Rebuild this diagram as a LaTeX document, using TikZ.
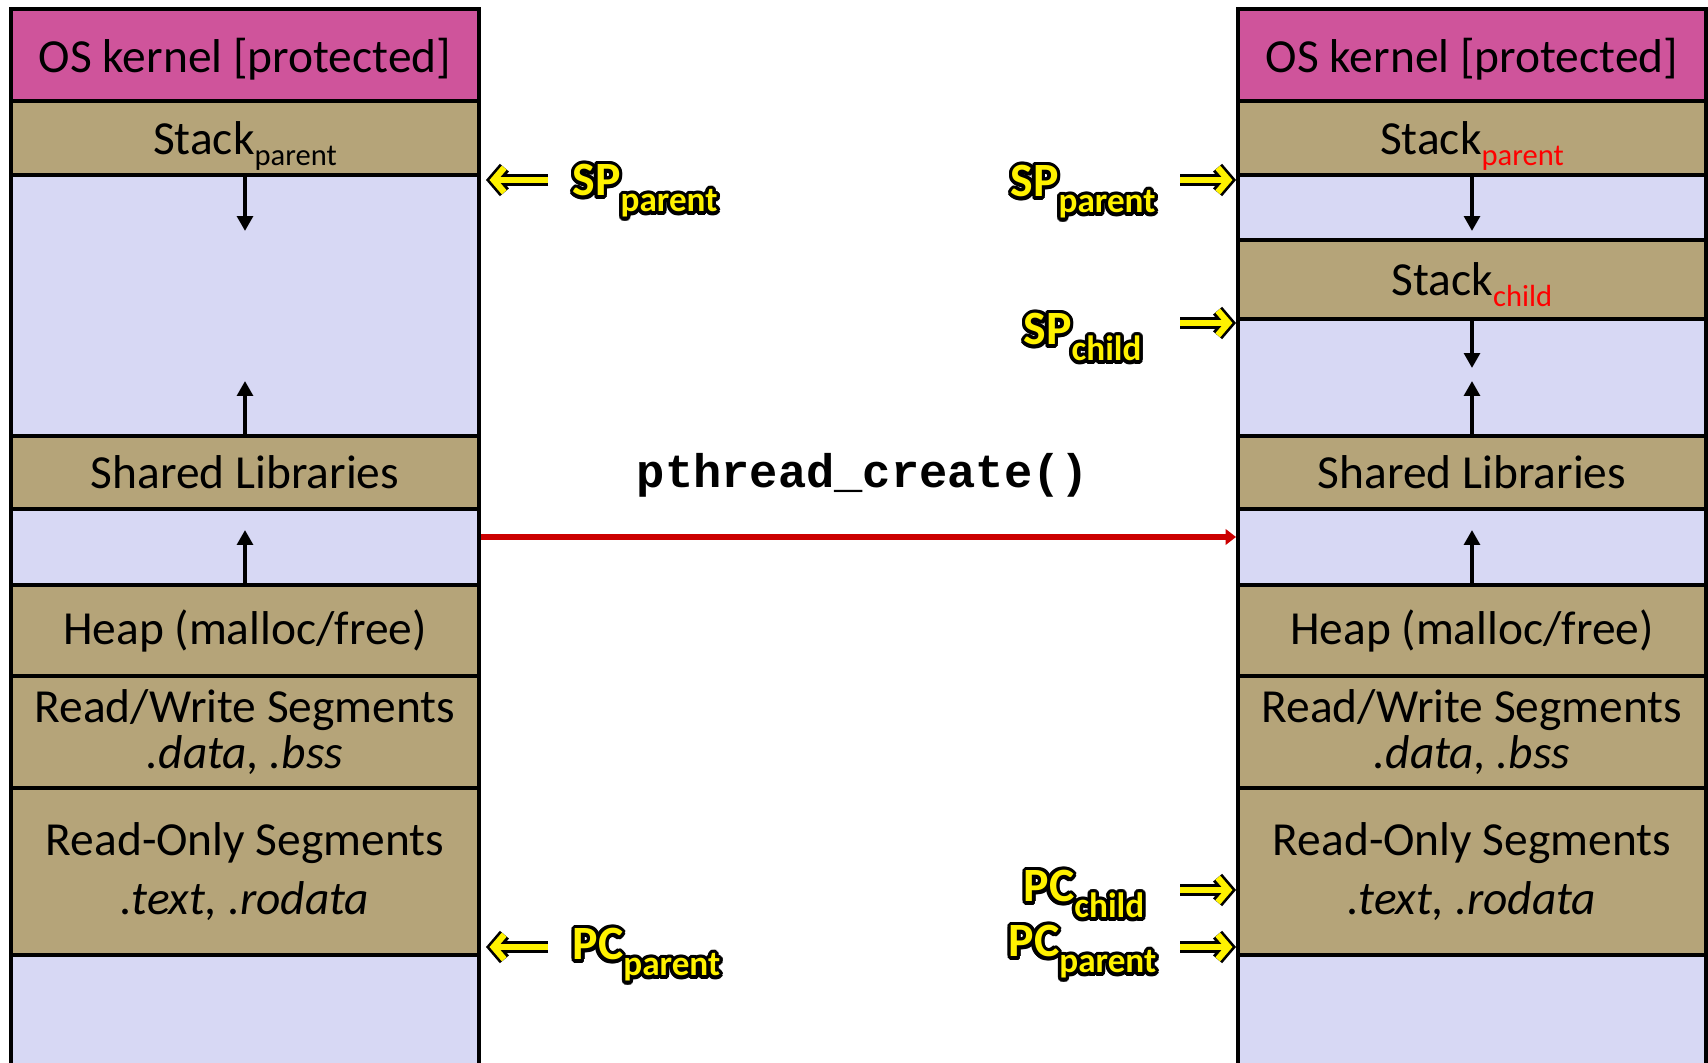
\documentclass[tikz,border=0pt]{standalone}
\usepackage{fontspec}
\setmainfont{Carlito}
\setmonofont{Liberation Mono}
\usepackage[copies]{contour}
\usetikzlibrary{arrows.meta}
\contourlength{1pt}
\definecolor{kernelpink}{RGB}{207,84,155}
\definecolor{segtan}{RGB}{181,164,121}
\definecolor{freeblue}{RGB}{215,216,244}
\definecolor{forkred}{RGB}{204,0,0}
\newcommand{\lowtext}[2][black]{\raisebox{-3.1pt}{\fontsize{8.7}{9}\selectfont\color{#1}#2}}
\newcommand{\regname}[2]{\contour{black}{#1\raisebox{-4.5pt}{\fontsize{10}{10}\selectfont #2}}}
\tikzstyle{seg}=[draw, line width=1.1pt, inner sep=0pt, minimum width=4.68cm, font=\fontsize{13.5}{16}\selectfont, align=center]
\tikzstyle{kernelseg}=[seg, fill=kernelpink, text depth=0pt]
\tikzstyle{usedseg}=[seg, fill=segtan]
\tikzstyle{freeseg}=[seg, fill=freeblue]
\tikzstyle{growth}=[line width=1.2pt, -{Triangle[length=4.2pt, width=4.4pt]}]
\tikzstyle{regname}=[inner sep=0pt, anchor=base west, text=yellow, font=\bfseries\fontsize{13.6}{16}\selectfont]
\tikzstyle{pointerback}=[black, line width=3.4pt, -{Straight Barb[length=3pt, width=7pt]}]
\tikzstyle{pointer}=[yellow, line width=1.8pt, shorten >=1pt, -{Straight Barb[length=3pt, width=7pt]}]
\tikzstyle{forkline}=[forkred, line width=1.6pt, -{Triangle[length=3pt, width=4.4pt]}]

\begin{document}
\begin{tikzpicture}[x=1cm, y=-1cm]
        \useasboundingbox (0,0) rectangle (17.08,10.63);
        % parent address space
        \node[kernelseg, minimum height=0.92cm] (lkern)  at (2.45, 0.55)  {OS kernel [protected]};
        \node[usedseg, minimum height=0.74cm, text depth=0pt] (lstack) at (2.45, 1.38) {Stack\lowtext{parent}};
        \node[freeseg, minimum height=2.61cm] (lgap)   at (2.45, 3.055) {};
        \node[usedseg, minimum height=0.73cm] (lshlib) at (2.45, 4.725) {Shared Libraries};
        \node[freeseg, minimum height=0.76cm] (lgapb)  at (2.45, 5.47)  {};
        \node[usedseg, minimum height=0.91cm] (lheap)  at (2.45, 6.305) {Heap (malloc/free)};
        \node[usedseg, minimum height=1.12cm] (lrw)    at (2.45, 7.32)  {Read/Write Segments\\[-3pt]\textit{.data, .bss}};
        \node[usedseg, minimum height=1.67cm] (lro)    at (2.45, 8.715) {Read-Only Segments\\[1pt]\textit{.text, .rodata}};
        \node[freeseg, minimum height=1.45cm] (lgapc)  at (2.45, 10.275) {};
        % child thread address space
        \node[kernelseg, minimum height=0.92cm] (rkern)  at (14.72, 0.55)  {OS kernel [protected]};
        \node[usedseg, minimum height=0.74cm, text depth=0pt] (rstack) at (14.72, 1.38) {Stack\lowtext[red]{parent}};
        \node[freeseg, minimum height=0.65cm] (rgap)   at (14.72, 2.075) {};
        \node[usedseg, minimum height=0.79cm, text depth=0pt] (rstackc) at (14.72, 2.795) {Stack\lowtext[red]{child}};
        \node[freeseg, minimum height=1.17cm] (rgapb)  at (14.72, 3.775) {};
        \node[usedseg, minimum height=0.73cm] (rshlib) at (14.72, 4.725) {Shared Libraries};
        \node[freeseg, minimum height=0.76cm] (rgapc)  at (14.72, 5.47)  {};
        \node[usedseg, minimum height=0.91cm] (rheap)  at (14.72, 6.305) {Heap (malloc/free)};
        \node[usedseg, minimum height=1.12cm] (rrw)    at (14.72, 7.32)  {Read/Write Segments\\[-3pt]\textit{.data, .bss}};
        \node[usedseg, minimum height=1.67cm] (rro)    at (14.72, 8.715) {Read-Only Segments\\[1pt]\textit{.text, .rodata}};
        \node[freeseg, minimum height=1.45cm] (rgapd)  at (14.72, 10.275) {};
        % growth arrows
        \coordinate (ldown)  at (2.45, 2.31);
        \coordinate (lup)    at (2.45, 3.81);
        \coordinate (lupb)   at (2.45, 5.30);
        \coordinate (rdown)  at (14.72, 2.31);
        \coordinate (rdownb) at (14.72, 3.68);
        \coordinate (rup)    at (14.72, 3.81);
        \coordinate (rupb)   at (14.72, 5.30);
        \draw[growth] (lstack.south) -- (ldown);
        \draw[growth] (lshlib.north) -- (lup);
        \draw[growth] (lheap.north) -- (lupb);
        \draw[growth] (rstack.south) -- (rdown);
        \draw[growth] (rstackc.south) -- (rdownb);
        \draw[growth] (rshlib.north) -- (rup);
        \draw[growth] (rheap.north) -- (rupb);
        % the call
        \node[font=\ttfamily\bfseries\fontsize{13.4}{16}\selectfont] (call) at (8.63, 4.75) {pthread\_create()};
        \draw[forkline] ([yshift=0.1cm]lgapb.east) -- ([yshift=0.1cm]rgapc.west);
        % registers
        \node[regname] (lsp)  at (5.72, 1.96)  {\regname{SP}{parent}};
        \node[regname] (lpc)  at (5.72, 9.60)  {\regname{PC}{parent}};
        \node[regname] (rsp)  at (10.10, 1.97) {\regname{SP}{parent}};
        \node[regname] (rspc) at (10.23, 3.45) {\regname{SP}{child}};
        \node[regname] (rpcc) at (10.23, 9.02) {\regname{PC}{child}};
        \node[regname] (rpc)  at (10.08, 9.57) {\regname{PC}{parent}};
        \coordinate (lsp-tail)  at (5.48, 1.80);  \coordinate (lsp-tip)  at (4.86, 1.80);
        \coordinate (lpc-tail)  at (5.48, 9.47);  \coordinate (lpc-tip)  at (4.86, 9.47);
        \coordinate (rsp-tail)  at (11.80, 1.80); \coordinate (rsp-tip)  at (12.36, 1.80);
        \coordinate (rspc-tail) at (11.80, 3.23); \coordinate (rspc-tip) at (12.36, 3.23);
        \coordinate (rpcc-tail) at (11.80, 8.90); \coordinate (rpcc-tip) at (12.36, 8.90);
        \coordinate (rpc-tail)  at (11.80, 9.47); \coordinate (rpc-tip)  at (12.36, 9.47);
        \foreach \r in {lsp, lpc, rsp, rspc, rpcc, rpc} {
            \draw[pointerback] (\r-tail) -- (\r-tip);
            \draw[pointer] (\r-tail) -- (\r-tip);
        }
    \end{tikzpicture}
\end{document}
